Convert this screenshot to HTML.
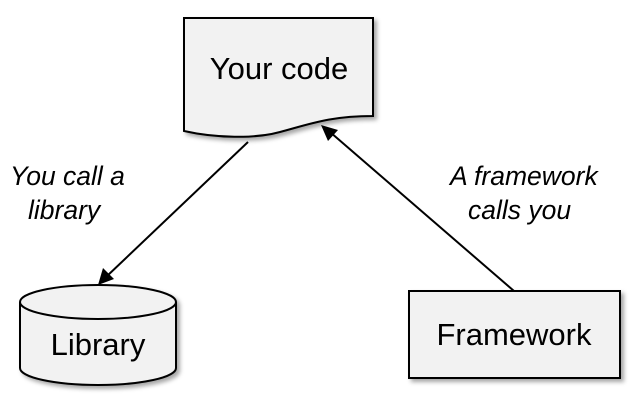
<!DOCTYPE html>
<html><head><style>body{margin:0;background:#fff}</style></head><body>
<svg width="636" height="401" xmlns="http://www.w3.org/2000/svg" font-family="Liberation Sans, Arial, sans-serif">
<defs><filter id="s" x="-10%" y="-10%" width="130%" height="130%"><feDropShadow dx="3" dy="3" stdDeviation="2" flood-color="#000" flood-opacity="0.35"/></filter></defs>
<path d="M184 18 H373 V116 C330 116 310 124 280 132 C255 139 215 138 184 131 Z" fill="#f2f2f2" stroke="#000" stroke-width="2" filter="url(#s)"/>
<text x="279" y="79" font-size="31" text-anchor="middle">Your code</text>
<path d="M20 302 A78 17 0 0 1 176 302 V368 A78 17 0 0 1 20 368 Z" fill="#f2f2f2" stroke="#000" stroke-width="2" filter="url(#s)"/>
<path d="M20 302 A78 17 0 0 0 176 302" fill="none" stroke="#000" stroke-width="2"/>
<text x="98" y="355" font-size="31" text-anchor="middle">Library</text>
<rect x="409" y="291" width="211" height="87" fill="#f2f2f2" stroke="#000" stroke-width="2" filter="url(#s)"/>
<text x="514" y="345" font-size="31" text-anchor="middle">Framework</text>
<line x1="248" y1="142" x2="106" y2="277" stroke="#000" stroke-width="2"/>
<polygon points="98,285 103,268 114,279" fill="#000"/>
<line x1="514" y1="291" x2="330" y2="132" stroke="#000" stroke-width="2"/>
<polygon points="321,125 338,130 328,141" fill="#000"/>
<g font-size="26.5" font-style="italic">
<text x="10" y="185">You call a</text><text x="28" y="219">library</text>
<text x="450" y="185">A framework</text><text x="468" y="219">calls you</text>
</g>
</svg>
</body></html>
